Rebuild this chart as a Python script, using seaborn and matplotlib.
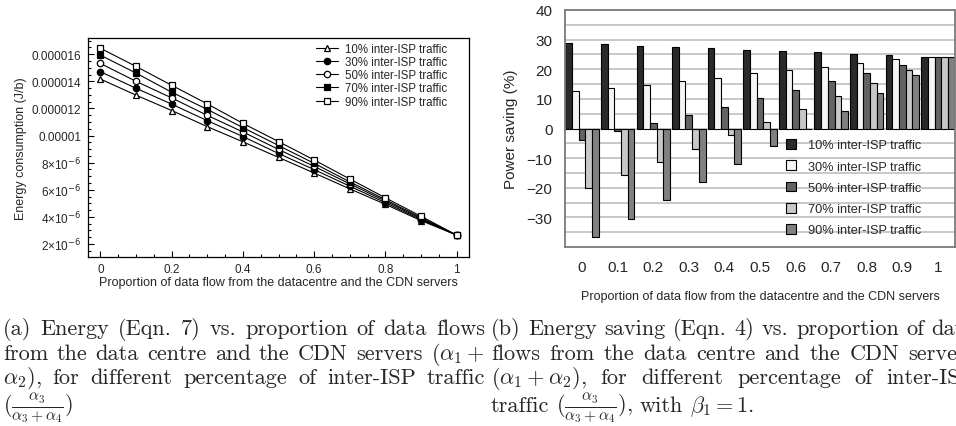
import matplotlib
matplotlib.use("Agg")
import matplotlib.pyplot as plt
from matplotlib.ticker import MultipleLocator, FixedLocator, FixedFormatter
import pandas as pd
import seaborn as sns

# proportion of data flow from the datacentre and the CDN servers
prop = [0.0, 0.1, 0.2, 0.3, 0.4, 0.5, 0.6, 0.7, 0.8, 0.9, 1.0]
prop_labels = ["0", "0.1", "0.2", "0.3", "0.4", "0.5", "0.6", "0.7", "0.8", "0.9", "1"]
series_names = ["10% inter-ISP traffic", "30% inter-ISP traffic", "50% inter-ISP traffic",
                "70% inter-ISP traffic", "90% inter-ISP traffic"]

# (a) energy consumption, in units of 1e-6 J/b
energy_10 = [14.17, 12.98, 11.85, 10.66, 9.54, 8.39, 7.24, 6.07, 4.93, 3.73, 2.66]
energy_30 = [14.71, 13.49, 12.32, 11.10, 9.93, 8.68, 7.49, 6.27, 5.05, 3.80, 2.66]
energy_50 = [15.32, 14.00, 12.78, 11.49, 10.27, 8.98, 7.73, 6.44, 5.17, 3.88, 2.66]
energy_70 = [15.93, 14.61, 13.20, 11.93, 10.59, 9.27, 7.95, 6.59, 5.27, 3.95, 2.66]
energy_90 = [16.44, 15.10, 13.71, 12.34, 10.90, 9.56, 8.20, 6.80, 5.41, 4.05, 2.66]

# (b) power saving in %
save_10 = [28.9, 28.5, 27.7, 27.4, 27.1, 26.4, 26.0, 25.7, 25.0, 24.7, 24.2]
save_30 = [12.5, 13.8, 14.8, 16.2, 17.2, 18.6, 19.6, 20.8, 22.0, 23.3, 24.2]
save_50 = [-3.9, -0.8, 1.9, 4.6, 7.4, 10.3, 13.1, 15.9, 18.6, 21.5, 24.2]
save_70 = [-20.2, -15.6, -11.2, -6.8, -2.2, 2.2, 6.5, 11.0, 15.4, 19.9, 24.2]
save_90 = [-36.5, -30.4, -24.2, -18.1, -12.0, -5.9, -0.3, 6.0, 12.1, 18.2, 24.2]

ytick_vals = [2, 4, 6, 8, 10, 12, 14, 16]
ytick_text = ["2×10$^{-6}$", "4×10$^{-6}$", "6×10$^{-6}$", "8×10$^{-6}$",
              "0.00001", "0.000012", "0.000014", "0.000016"]

sns.set_theme(style="white")
plt.rcParams["font.family"] = ["Liberation Sans", "DejaVu Sans"]

W, H = 956, 427
fig = plt.figure(figsize=(W / 100, H / 100), dpi=100)


def box(l, t, r, b):
    return [l / W, 1 - b / H, (r - l) / W, (b - t) / H]


# ---------- (a) line chart ----------
ax1 = fig.add_axes(box(88, 39, 469, 258))
energy = [energy_10, energy_30, energy_50, energy_70, energy_90]
markers = ["^", "o", "o", "s", "s"]
faces = ["white", "black", "white", "black", "white"]
for name, vals, m, fc in zip(series_names, energy, markers, faces):
    sns.lineplot(x=prop, y=[v * 1e-6 for v in vals], ax=ax1, color="black", lw=0.8,
                 marker=m, markersize=4.6, markerfacecolor=fc, markeredgecolor="black",
                 markeredgewidth=0.9, label=name)

ax1.set_xlim(-0.035, 1.035)
ax1.set_ylim(1.04e-6, 17.2e-6)
ax1.xaxis.set_major_locator(FixedLocator([0, 0.2, 0.4, 0.6, 0.8, 1.0]))
ax1.xaxis.set_major_formatter(FixedFormatter(["0", "0.2", "0.4", "0.6", "0.8", "1"]))
ax1.xaxis.set_minor_locator(MultipleLocator(0.05))
ax1.yaxis.set_major_locator(FixedLocator([v * 1e-6 for v in ytick_vals]))
ax1.yaxis.set_major_formatter(FixedFormatter(ytick_text))
ax1.yaxis.set_minor_locator(MultipleLocator(0.5e-6))
ax1.tick_params(which="both", direction="in", left=True, bottom=True, top=False, right=False,
                color="black", width=0.8)
ax1.tick_params(which="major", length=4.5, labelsize=8.5, pad=5)
ax1.tick_params(which="minor", length=2.5)
ax1.tick_params(axis="x", which="major", pad=4)
for s in ax1.spines.values():
    s.set_color("black")
    s.set_linewidth(0.9)
ax1.set_xlabel("Proportion of data flow from the datacentre and the CDN servers",
               fontsize=9, labelpad=1)
ax1.set_ylabel("Energy consumption (J/b)", fontsize=9, labelpad=3)
ax1.legend(loc="upper left", bbox_to_anchor=(316 / W, 1 - 44 / H),
           bbox_transform=fig.transFigure, frameon=False, fontsize=8.3,
           handlelength=1.9, handletextpad=0.6, labelspacing=0.1,
           borderpad=0, borderaxespad=0)

# ---------- (b) bar chart ----------
ax2 = fig.add_axes(box(565, 11, 955, 248))
saving = [save_10, save_30, save_50, save_70, save_90]
rows = []
for name, vals in zip(series_names, saving):
    for lab, v in zip(prop_labels, vals):
        rows.append({"prop": lab, "series": name, "saving": v})
df = pd.DataFrame(rows)
bar_colors = ["#2a2a2a", "#f5f5f5", "#636363", "#c8c8c8", "#808080"]
sns.barplot(data=df, x="prop", y="saving", hue="series", order=prop_labels,
            hue_order=series_names, palette=bar_colors, saturation=1, width=0.94,
            gap=0, edgecolor="black", linewidth=0.8, ax=ax2)

ax2.set_xlim(-0.48, 10.48)
ax2.set_ylim(-40, 40)
ax2.yaxis.set_major_locator(FixedLocator([-30, -20, -10, 0, 10, 20, 30, 40]))
ax2.yaxis.set_minor_locator(FixedLocator([-35, -25, -15, -5, 5, 15, 25, 35]))
ax2.set_axisbelow(True)
ax2.grid(axis="y", which="both", color="#c4c4c4", lw=1.3)
ax2.tick_params(axis="both", which="both", length=0, labelsize=11)
ax2.tick_params(axis="x", pad=9)
ax2.tick_params(axis="y", pad=9)
for s in ax2.spines.values():
    s.set_color("#7a7a7a")
    s.set_linewidth(1.3)
ax2.set_xlabel("Proportion of data flow from the datacentre and the CDN servers",
               fontsize=9, labelpad=12)
ax2.set_ylabel("Power saving (%)", fontsize=11, labelpad=6)
ax2.legend(loc="upper left", bbox_to_anchor=(786 / W, 1 - 140 / H),
           bbox_transform=fig.transFigure, frameon=False, fontsize=9.2,
           handlelength=0.8, handleheight=0.8, handletextpad=0.9, labelspacing=0.7,
           borderpad=0, borderaxespad=0)

# ---------- captions (justified, LaTeX-like) ----------
renderer = fig.canvas.get_renderer()

cap_a = [
    ("(a) Energy (Eqn. 7) vs. proportion of data flows", True),
    (r"from the data centre and the CDN servers ($\alpha_1+$", True),
    (r"$\alpha_2$), for different percentage of inter-ISP traffic", True),
    (r"($\frac{\alpha_3}{\alpha_3+\alpha_4}$)", False),
]
cap_b = [
    ("(b) Energy saving (Eqn. 4) vs. proportion of data", True),
    ("flows from the data centre and the CDN servers", True),
    (r"($\alpha_1+\alpha_2$), for different percentage of inter-ISP", True),
    (r"traffic ($\frac{\alpha_3}{\alpha_3+\alpha_4}$), with $\beta_1=1$.", False),
]

# size the caption font so the first line fills its column like the reference
probe = fig.text(0, 0, cap_a[0][0], fontsize=10, family="cmr10")
CAP_FS = 10 * 470 / probe.get_window_extent(renderer).width
probe.remove()


def caption_line(words, x0, x1, y, justify=True):
    texts = [fig.text(0, 0, w, fontsize=CAP_FS, family="cmr10", math_fontfamily="cm",
                      va="baseline", ha="left") for w in words]
    widths = [t.get_window_extent(renderer).width for t in texts]
    if justify and len(words) > 1:
        gap = (x1 - x0 - sum(widths)) / (len(words) - 1)
    else:
        gap = CAP_FS * 100 / 72 * 0.3
    x = x0
    for t, w in zip(texts, widths):
        t.set_position((x / W, 1 - y / H))
        x += w + gap


baselines = [335, 360, 384, 412]
for (line, just), yb in zip(cap_a, baselines):
    caption_line(line.split(" "), 3, 485, yb, just)
for (line, just), yb in zip(cap_b, baselines):
    caption_line(line.split(" "), 491, 975, yb, just)

fig.savefig("out.png", dpi=100)
